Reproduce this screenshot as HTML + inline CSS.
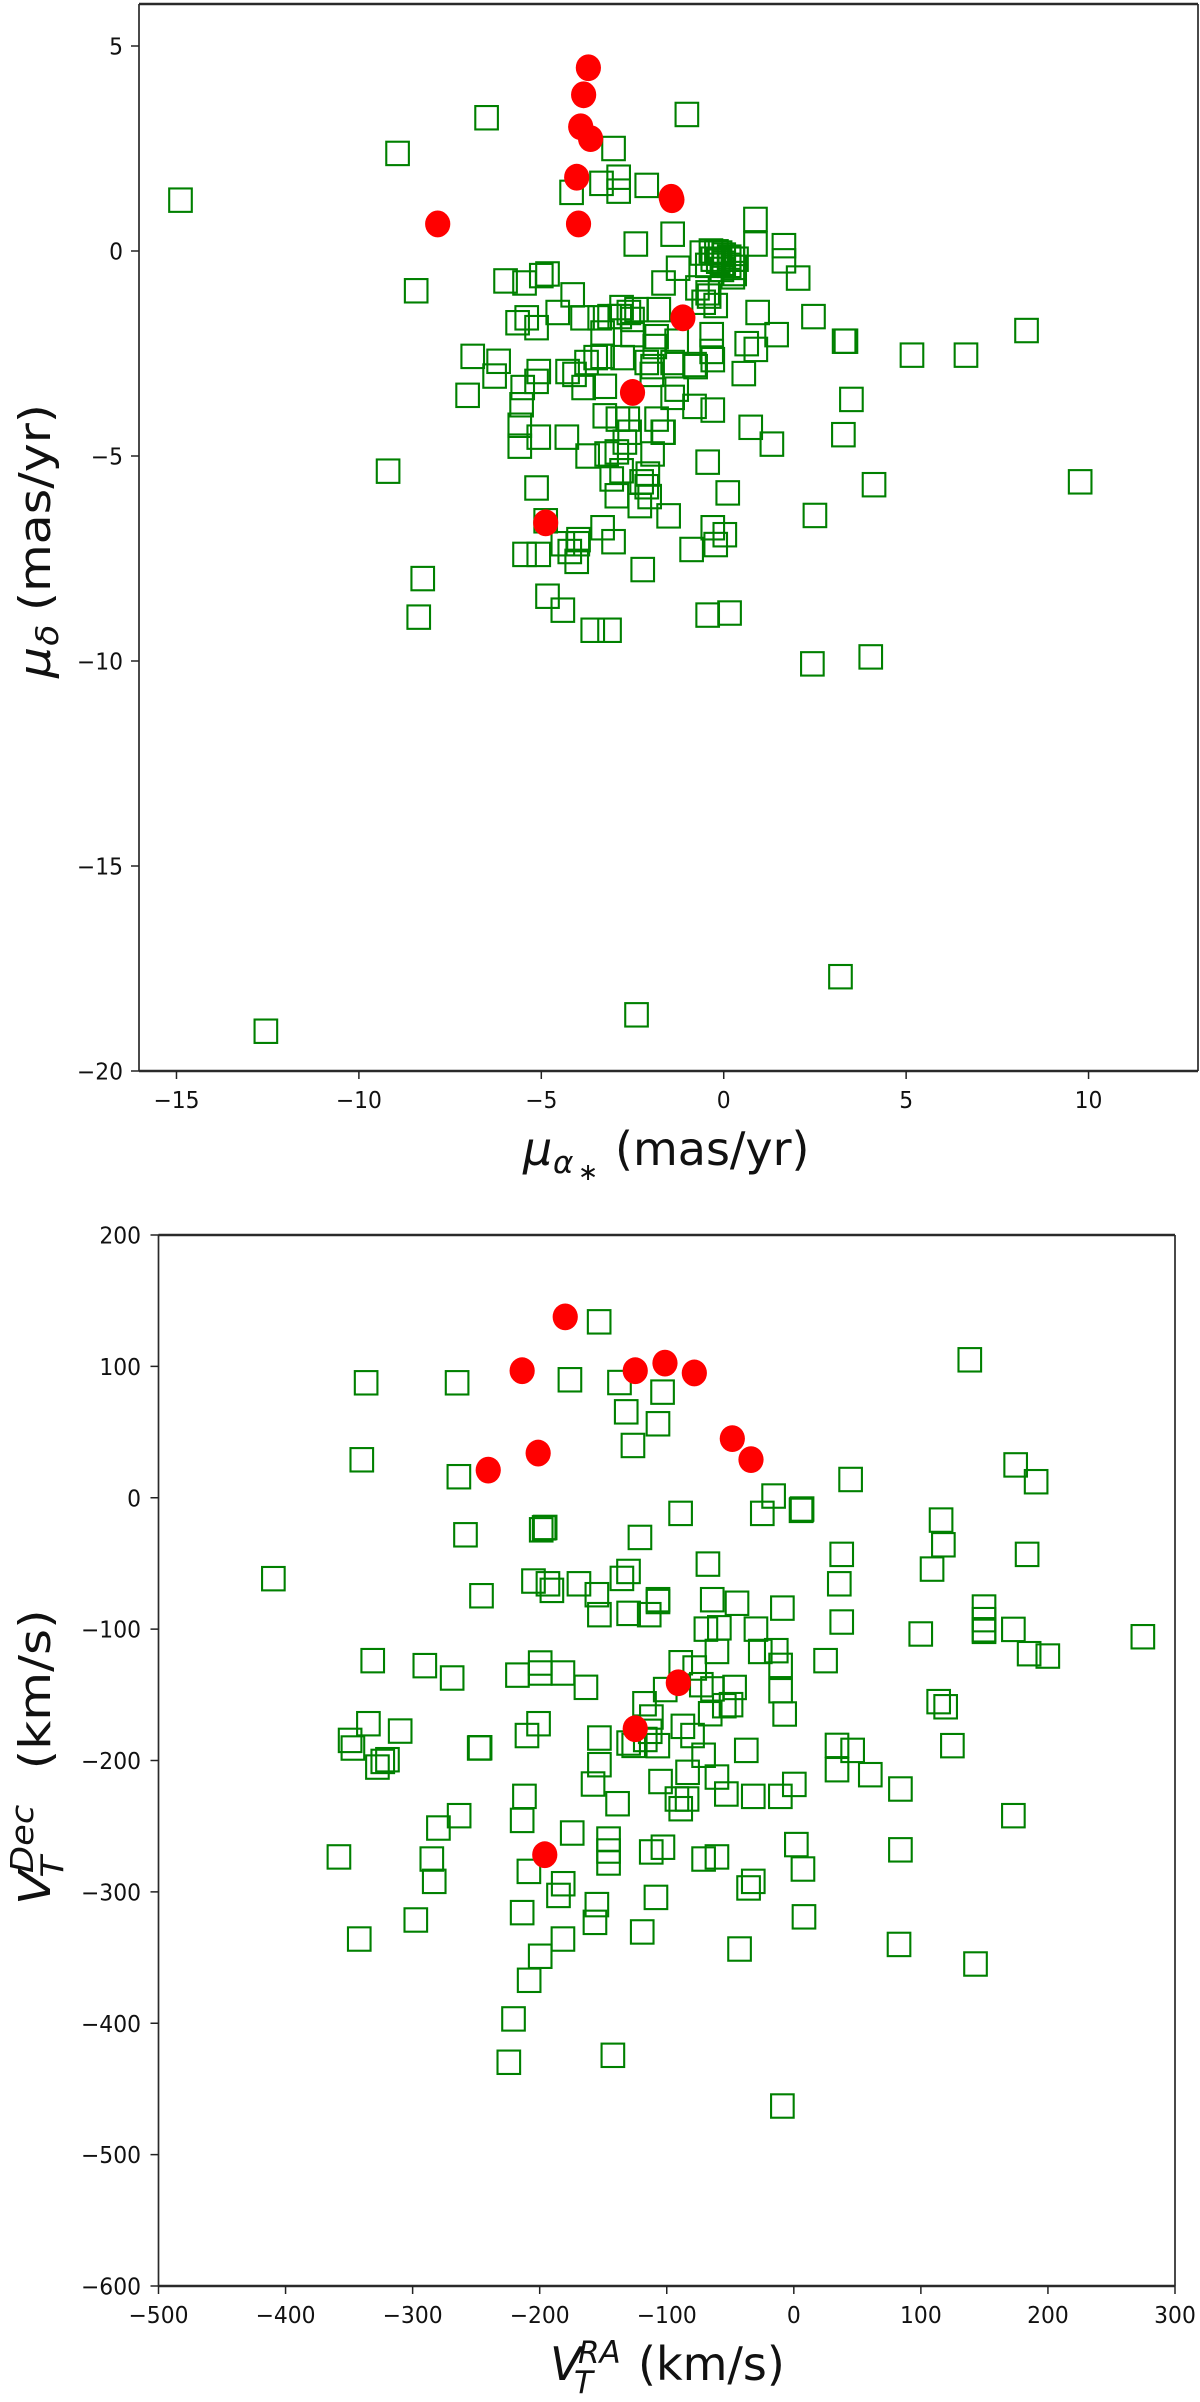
<!DOCTYPE html>
<html lang="en">
<head>
<meta charset="utf-8">
<title>Proper motion and transverse velocity scatter plots</title>
<style>
html,body{margin:0;padding:0;background:#fff;}
svg{display:block;}
text{font-family:"DejaVu Sans","Liberation Sans",sans-serif;fill:#111;}
.tick{font-size:23px;}
.lab{font-size:46px;}
.laby{font-size:44px;}
.sub{font-size:31px;}
.it{font-style:italic;}
</style>
</head>
<body>
<svg id="fig" width="1200" height="2402" viewBox="0 0 1200 2402" xmlns="http://www.w3.org/2000/svg">
  <rect x="0" y="0" width="1200" height="2402" fill="#fff"/>
  <g id="p1"></g>
  <g id="p2"></g>

  <text class="lab" y="1165"><tspan class="it" x="523">μ</tspan><tspan class="it sub" x="553" y="1173">α</tspan><tspan class="sub" style="font-size:24px" x="578" y="1180">∗</tspan><tspan x="615" y="1165">(mas/yr)</tspan></text>
  <g transform="translate(50,678) rotate(-90) scale(1.114,1)">
    <text class="laby" y="0"><tspan class="it" x="0">μ</tspan><tspan class="it sub" x="29" y="8">δ</tspan><tspan x="60" y="0">(mas/yr)</tspan></text>
  </g>
  <text class="lab" y="2380"><tspan class="it" x="550">V</tspan><tspan class="it sub" x="578" y="2363">RA</tspan><tspan class="it sub" x="574" y="2393">T</tspan><tspan x="638" y="2380">(km/s)</tspan></text>
  <g transform="translate(50,1905) rotate(-90) scale(1.14,1)">
    <text class="laby" y="0"><tspan class="it" x="0">V</tspan><tspan class="it sub" x="28" y="-17">Dec</tspan><tspan class="it sub" x="24" y="13">T</tspan><tspan x="119" y="0">(km/s)</tspan></text>
  </g>
</svg>
<script>
var pmTicksX = [-15, -10, -5, 0, 5, 10];
var pmTicksY = [5, 0, -5, -10, -15, -20];
var velTicksX = [-500, -400, -300, -200, -100, 0, 100, 200, 300];
var velTicksY = [200, 100, 0, -100, -200, -300, -400, -500, -600];

var pmSquareRa = [
-14.89,-8.94,-6.5,-1.01,-3.02,-4.17,-3.35,-2.88,-2.88,-2.11,-1.4,-2.41,-8.43,.87,.87,1.65,1.65,2.04,
-.6,-.35,-.2,-.1,0,.15,.25,-.3,-.15,0,.15,.3,.35,-.45,-.05,.3,
-1.25,-1.65,-.72,-.44,-.22,-.4,-.55,.25,.93,1.45,.88,.63,.55,-.33,-.33,-.3,-.77,-1.78,
-4.55,-4.14,-4.83,-5,-5.46,-5.98,-5.4,-5.65,-5.13,-3.87,-3.4,-3.13,-2.8,-2.6,-2.85,-2.39,-2.5,
-3.32,-2.5,-1.84,-1.29,-1.89,-6.88,-6.17,-6.28,-7.02,-5.51,-5.07,-5.13,-4.28,-4.09,-3.84,-3.76,-3.51,-3.32,-3.26,
-2.77,-2.11,-1.95,-1.97,-1.4,-.8,-1.29,-1.4,-.8,-.3,.74,1.32,-3.26,-2.9,-1.84,-1.67,
-5.54,-5.59,-5.59,-5.07,-4.3,-3.73,-3.21,-2.93,-2.71,-2.58,-1.95,-1.65,-2.63,
-3.07,-2.8,-2.25,-2.08,-2.11,-2.03,-2.93,-2.3,-1.51,-.44,.11,-5.13,-4.88,-3.32,-3.02,-3.98,-4.22,-4.03,-4.41,-4,
-5.46,-5.07,-2.22,-.88,-.3,.03,-.22,-4.83,-4.41,-8.25,-8.36,-3.59,-3.13,-.44,.16,
2.46,3.3,3.35,3.5,3.28,5.16,6.64,8.3,9.77,4.12,2.5,2.43,4.03,3.2,-2.39,-12.55,-9.2
];
var pmSquareDec = [
1.24,2.38,3.25,3.33,2.5,1.43,1.65,1.8,1.46,1.6,.41,.17,-.97,.77,.17,.13,-.24,-.66,
-.05,0,-.02,-.05,-.1,-.15,-.2,-.2,-.25,-.3,-.35,-.4,-.2,-.35,-.45,-.55,
-.42,-.78,-.9,-1.02,-1.33,-1.1,-1.25,-.63,-1.5,-2.04,-2.4,-2.26,-2.99,-2.04,-2.45,-2.65,-2.82,-1.43,
-1.5,-1.07,-.56,-.6,-.78,-.73,-1.63,-1.75,-1.87,-1.63,-1.63,-1.6,-1.38,-1.5,-1.6,-1.43,-1.67,
-2,-2.04,-2.09,-2.2,-2.33,-2.57,-2.69,-3.05,-3.52,-3.33,-2.94,-3.18,-2.94,-3.01,-3.33,-2.72,-2.6,-2.57,-3.3,
-2.6,-2.72,-2.82,-3.01,-2.72,-2.77,-3.37,-3.57,-3.79,-3.88,-4.3,-4.71,-4.02,-4.1,-4.1,-4.42,
-3.75,-4.25,-4.76,-4.54,-4.54,-5,-4.95,-4.9,-4.66,-4.42,-4.95,-4.42,-4.1,
-5.56,-5.36,-5.63,-5.44,-5.75,-5.99,-5.97,-6.21,-6.46,-5.15,-5.9,-5.78,-6.58,-6.75,-7.09,-7.04,-7.33,-7.57,-7.14,-7.14,
-7.4,-7.4,-7.77,-7.28,-6.75,-6.92,-7.16,-8.42,-8.76,-7.99,-8.93,-9.25,-9.25,-8.88,-8.83,
-1.6,-2.2,-2.2,-3.62,-4.48,-2.54,-2.54,-1.94,-5.63,-5.7,-6.45,-10.07,-9.9,-17.7,-18.63,-19.03,-5.37
];
var pmCircleRa = [-3.71, -3.84, -3.92, -3.65, -4.03, -1.42, -1.44, -7.84, -3.98, -1.12, -2.5, -4.88];
var pmCircleDec = [4.47, 3.81, 3.03, 2.74, 1.8, 1.25, 1.31, .66, .66, -1.63, -3.45, -6.63];

var velSquareRa = [
-153.2,-176.2,-137.2,-103.3,-131.9,-106.9,-126.6,-89.1,-121.1,-198.8,-196.5,-195.7,44.7,-15.9,-24.8,5.7,6.5,6,
37.7,35.8,-67.6,-130.1,-135.3,-169.1,-204.9,-193.5,-190.4,-155,
-106.9,-64.2,-44.7,-9,-153,-130,-113.8,-106.9,-69.2,-58.6,-29.8,37.7,-60.5,-26.4,-13.8,-10.4,25,-89,-78,
-101.2,-72.8,-64,-46.6,-10.4,-7.2,-117.5,-112.1,-65.8,-54.7,-49.4,-87.3,-79.7,-130,-126,-107,-116.9,-113,-153,-153,
-71,-37.4,-60.5,-83.6,-104.9,-53.1,-31.9,-10.6,.4,34,46.3,34,60.2,-92,-84,-89,-158,-138.7,-212,-213.8,-210,-200.9,-246.9,
-174.4,-145.8,-145.8,-145.8,-112.2,-103,-71,-60.5,2,7.2,-31.9,-35.6,-208.5,-181.5,-185.2,-155,-108.5,
-283,-284.9,-297.5,-263.4,-279.7,-213.8,-156.5,-119.3,-181.7,-199.6,-208.3,-220.6,-224.3,-142.4,-42.7,-9,8,
-340,-263.6,-409.6,-258.4,-245.8,-331.4,-290.4,-268.9,-217.5,-199.6,-199.6,-181.7,-163.6,
-334.8,-309.8,-349.2,-347,-319.8,-323.5,-327.7,-247.6,-358,-342,
174.6,190.7,115.9,117.7,108.8,183.6,99.9,149.7,149.7,149.7,149.7,172.8,185.2,199.9,274.7,114,119.5,124.8,83.9,172.8,83.9,82.8,143,
-336.6,-265,138.5
];
var velSquareDec = [
133.9,89.8,87.7,80.4,65.4,56.3,39.8,-11.9,-30.2,-24.4,-22.9,-22.6,13.9,1.3,-11.9,-9.6,-8.6,-9.2,
-43.1,-65.5,-50.5,-56.1,-61.4,-65.5,-63.4,-65.5,-70.5,-73.8,
-77.6,-77.6,-80.3,-84,-89,-88,-89,-79,-100,-99,-100,-94.6,-117,-117,-116.4,-127.6,-124,-125.6,-129.6,
-146,-142.3,-145.5,-144.4,-146.9,-164.6,-156.8,-166.9,-164.4,-158.3,-157.5,-174,-181,-186.7,-188.5,-188.7,-184,-177.8,-182.9,-203.2,
-196,-192.3,-212.6,-209,-216,-225.5,-227.3,-227.3,-218.2,-188.5,-192.3,-207,-210.8,-229.3,-229.3,-236.7,-217.9,-232.9,-227.3,-245.6,-181,-172,-190.3,
-255.2,-259.8,-268.9,-278,-269.6,-266,-275,-273.4,-264,-282.6,-292,-297,-284.4,-293.8,-302.7,-309.7,-304.2,
-292,-275,-321.4,-242,-251.4,-315.8,-323.2,-330.5,-335.9,-349,-367.3,-396.7,-429.7,-424.4,-343.5,-463,-319,
28.9,16,-61.6,-28.2,-74.6,-124,-127.8,-137.2,-135,-125.8,-133.4,-133.4,-144.3,
-172,-177.6,-184.7,-190.5,-199.4,-200.7,-205,-190.5,-273.4,-335.9,
25,12.2,-17,-35.8,-54.3,-43.1,-103.7,-83.2,-92.8,-100.5,-101.7,-100.2,-118.7,-120.5,-105.8,-155.2,-159.1,-188.7,-221.7,-242,-268,-340,-354.9,
87.5,87.5,105
];
var velCircleRa = [-179.9, -213.8, -124.8, -101.4, -78.3, -201.2, -240.5, -48.4, -33.7, -90.9, -124.8, -196];
var velCircleDec = [137.7, 96.7, 96.7, 102.5, 95, 34, 21, 45, 29, -140.8, -175.8, -271.7];

var NS = 'http://www.w3.org/2000/svg';

function scale(d0, d1, r0, r1) {
  return function (v) { return r0 + (v - d0) * (r1 - r0) / (d1 - d0); };
}
function fmt(v) {
  return v < 0 ? '\u2212' + Math.abs(v) : String(v);
}
function mk(tag, attrs, parent) {
  var el = document.createElementNS(NS, tag);
  for (var k in attrs) el.setAttribute(k, attrs[k]);
  parent.appendChild(el);
  return el;
}

function drawPanel(host, box, sx, sy, ticksX, ticksY, sqX, sqY, cX, cY, labelXBaseline, labelYRight) {
  var i, el;
  for (i = 0; i < sqX.length; i++) {
    el = mk('rect', {
      x: sx(sqX[i]) - 11.3, y: sy(sqY[i]) - 11.7, width: 22.6, height: 23.4,
      fill: 'none', stroke: '#008000', 'stroke-width': 2.1
    }, host);
    
    
  }
  for (i = 0; i < cX.length; i++) {
    el = mk('ellipse', {
      cx: sx(cX[i]), cy: sy(cY[i]), rx: 12.6, ry: 13.4, fill: '#ff0000'
    }, host);
    
    
  }
  el = mk('line', { x1: box.l, x2: box.l, y1: box.t, y2: box.b, stroke: '#2a2a2a', 'stroke-width': 1.7 }, host);
  
  
  el = mk('line', { x1: box.r, x2: box.r, y1: box.t, y2: box.b, stroke: '#2a2a2a', 'stroke-width': 1.7 }, host);
  
  
  el = mk('line', { x1: box.l, x2: box.r, y1: box.t, y2: box.t, stroke: '#2a2a2a', 'stroke-width': 2.6 }, host);
  
  
  el = mk('line', { x1: box.l, x2: box.r, y1: box.b, y2: box.b, stroke: '#2a2a2a', 'stroke-width': 2.6 }, host);
  
  
  for (i = 0; i < ticksX.length; i++) {
    el = mk('line', {
      x1: sx(ticksX[i]), x2: sx(ticksX[i]), y1: box.b, y2: box.b + 8,
      stroke: '#222', 'stroke-width': 1.5
    }, host);
    
    
    el = mk('text', {
      x: 0, y: 0, 'text-anchor': 'middle', 'class': 'tick',
      transform: 'translate(' + sx(ticksX[i]) + ',' + labelXBaseline + ') scale(.95,1)'
    }, host);
    el.textContent = fmt(ticksX[i]);
    
    
  }
  for (i = 0; i < ticksY.length; i++) {
    el = mk('line', {
      x1: box.l - 8, x2: box.l, y1: sy(ticksY[i]), y2: sy(ticksY[i]),
      stroke: '#222', 'stroke-width': 1.5
    }, host);
    
    
    el = mk('text', {
      x: 0, y: 0, 'text-anchor': 'end', 'class': 'tick',
      transform: 'translate(' + labelYRight + ',' + (sy(ticksY[i]) + 8.5) + ') scale(.95,1)'
    }, host);
    el.textContent = fmt(ticksY[i]);
    
    
  }
}

var pmBox = { l: 139, r: 1198, t: 4, b: 1071 };
var velBox = { l: 158.5, r: 1175, t: 1235, b: 2286 };

drawPanel(document.getElementById('p1'), pmBox,
  scale(-16, 13, 140, 1198), scale(-20, 6, 1071, 5),
  pmTicksX, pmTicksY, pmSquareRa, pmSquareDec, pmCircleRa, pmCircleDec, 1108, 123);

drawPanel(document.getElementById('p2'), velBox,
  scale(-500, 300, 158.5, 1175), scale(-600, 200, 2286, 1235),
  velTicksX, velTicksY, velSquareRa, velSquareDec, velCircleRa, velCircleDec, 2323, 141);
</script>
</body>
</html>
